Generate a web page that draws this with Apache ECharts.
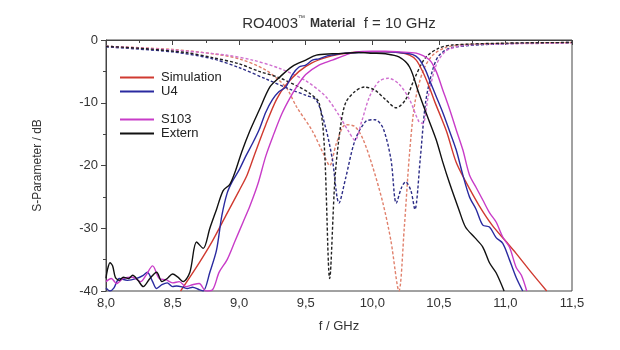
<!DOCTYPE html>
<html>
<head>
<meta charset="utf-8">
<script src="https://cdn.jsdelivr.net/npm/echarts@6/dist/echarts.min.js"></script>
<style>
  html, body { margin: 0; padding: 0; background: #fff; }
  #chart { width: 620px; height: 350px; }
</style>
</head>
<body>
<div id="chart"></div>
<script>
// S21 (solid) curves, [f in GHz, dB]
const simS21 = [[8.56,-40],[8.7,-35.5],[8.8,-32],[8.9,-28],[9.0,-24],[9.06,-21.5],[9.12,-18],[9.2,-13.5],[9.28,-9.5],[9.35,-7.2],[9.45,-5],[9.55,-3.6],[9.65,-2.8],[9.75,-2.3],[9.85,-2.0],[10.0,-1.9],[10.1,-1.9],[10.2,-2.0],[10.28,-2.4],[10.33,-3.2],[10.38,-5.1],[10.43,-7.6],[10.47,-9.9],[10.52,-12.5],[10.56,-14.7],[10.63,-19.5],[10.7,-22.5],[10.8,-26.3],[10.9,-29.5],[11.0,-32],[11.08,-34],[11.2,-37.2],[11.31,-40]];

const u4S21 = [[8.0,-39.5],[8.03,-40],[8.06,-39.5],[8.1,-38],[8.16,-38.3],[8.23,-38],[8.28,-37.5],[8.31,-37],[8.35,-38.5],[8.38,-39.6],[8.42,-39],[8.46,-38.7],[8.5,-39.3],[8.53,-39.2],[8.58,-39.4],[8.61,-39.6],[8.65,-39.4],[8.7,-39.8],[8.73,-40],[8.78,-37],[8.83,-33.5],[8.87,-28],[8.91,-24.4],[8.95,-22.5],[9.0,-20.7],[9.05,-18.5],[9.1,-16.5],[9.15,-14.3],[9.2,-11.5],[9.25,-9.5],[9.3,-8.2],[9.35,-7.5],[9.4,-5.5],[9.45,-4.3],[9.5,-4.0],[9.55,-3.2],[9.6,-3.0],[9.65,-2.6],[9.7,-2.4],[9.8,-2.1],[9.9,-2.0],[10.0,-1.9],[10.1,-1.9],[10.2,-2.0],[10.3,-2.3],[10.35,-3.0],[10.4,-4.8],[10.43,-6.4],[10.48,-9],[10.53,-11.6],[10.58,-14.5],[10.63,-17.5],[10.68,-21.5],[10.73,-25],[10.78,-27],[10.83,-29.5],[10.88,-29.8],[10.93,-31.5],[10.98,-32.4],[11.03,-35],[11.08,-37.8],[11.13,-40]];

const s103S21 = [[8.0,-38.5],[8.04,-38],[8.08,-38.8],[8.13,-38],[8.2,-37.8],[8.26,-38.5],[8.3,-37.5],[8.35,-36],[8.4,-38],[8.45,-38.2],[8.5,-38.7],[8.55,-38.5],[8.6,-39.3],[8.65,-39],[8.7,-38.8],[8.75,-40],[8.8,-39.8],[8.85,-37],[8.91,-35],[8.97,-32],[9.03,-29],[9.08,-26.5],[9.14,-23],[9.2,-18.5],[9.26,-15],[9.32,-11.8],[9.38,-9.3],[9.44,-7.2],[9.5,-5.5],[9.6,-4.0],[9.7,-3.2],[9.8,-2.4],[9.88,-1.9],[10.0,-1.8],[10.1,-1.8],[10.2,-1.9],[10.33,-2.1],[10.43,-3.2],[10.48,-5],[10.53,-8],[10.58,-11],[10.63,-14.3],[10.68,-17.5],[10.73,-21.5],[10.78,-23.5],[10.83,-25.5],[10.88,-27.5],[10.93,-29],[10.98,-31.4],[11.03,-33],[11.08,-36.2],[11.12,-37.5],[11.16,-40]];

const externS21 = [[8.0,-38],[8.01,-36.7],[8.03,-35.5],[8.05,-36],[8.07,-37.8],[8.1,-38.3],[8.13,-37.8],[8.17,-38],[8.2,-37.5],[8.24,-38.3],[8.28,-39.3],[8.33,-38],[8.38,-37],[8.42,-38.5],[8.46,-38],[8.5,-37.3],[8.54,-37.8],[8.58,-38.5],[8.63,-37],[8.68,-32.2],[8.73,-33.2],[8.78,-30],[8.83,-27],[8.88,-24],[8.93,-23],[8.97,-21],[9.02,-17.8],[9.08,-14.5],[9.15,-11.2],[9.23,-7.5],[9.3,-6],[9.4,-4.2],[9.5,-3.2],[9.58,-2.4],[9.7,-2.2],[9.8,-2.1],[9.9,-2.0],[10.0,-2.1],[10.1,-2.2],[10.2,-2.7],[10.28,-4.3],[10.35,-8.5],[10.42,-12.5],[10.48,-15.9],[10.53,-19.5],[10.58,-22.8],[10.65,-27],[10.7,-29.8],[10.77,-31.5],[10.83,-33],[10.88,-35.5],[10.93,-37.1],[10.99,-40]];

// S11 (dashed) curves
const simS11 = [[8.0,-1.0],[8.5,-1.5],[8.8,-2.2],[9.0,-3.0],[9.2,-4.8],[9.35,-7.5],[9.43,-10.6],[9.55,-14.5],[9.63,-18],[9.68,-20],[9.73,-16.5],[9.8,-13.5],[9.87,-13.8],[9.93,-15.8],[10.0,-20],[10.08,-26],[10.14,-32],[10.2,-40],[10.24,-30],[10.28,-18],[10.32,-10],[10.38,-5],[10.45,-2.5],[10.55,-1.2],[10.7,-0.7],[11.5,-0.4]];

const u4S11 = [[8.0,-1.1],[8.5,-1.9],[8.8,-3.0],[9.0,-4.4],[9.2,-6.2],[9.4,-8.0],[9.5,-8.8],[9.58,-9.6],[9.65,-14],[9.7,-19],[9.75,-26],[9.8,-22],[9.87,-16],[9.95,-13],[10.02,-12.7],[10.08,-14],[10.14,-19],[10.18,-26],[10.22,-23.5],[10.25,-22.6],[10.29,-24],[10.32,-27],[10.36,-19],[10.4,-10],[10.45,-5],[10.5,-2.5],[10.6,-1.2],[11.0,-0.6],[11.5,-0.4]];

const s103S11 = [[8.0,-1.0],[8.5,-1.6],[8.9,-2.4],[9.1,-3.2],[9.3,-4.5],[9.5,-6.5],[9.65,-9],[9.75,-12],[9.82,-14.5],[9.87,-16],[9.92,-13],[9.98,-9],[10.05,-6.6],[10.12,-6.1],[10.2,-7],[10.28,-9.5],[10.35,-13],[10.38,-13.3],[10.42,-9],[10.48,-4],[10.55,-1.8],[10.65,-1.0],[10.8,-0.7],[11.5,-0.5]];

const externS11 = [[8.0,-1.0],[8.3,-1.4],[8.6,-2.0],[8.8,-2.8],[9.0,-3.8],[9.15,-5.0],[9.3,-6.0],[9.45,-7.5],[9.53,-8.5],[9.6,-10],[9.64,-17],[9.68,-38],[9.72,-22],[9.76,-14],[9.8,-10],[9.87,-8.2],[9.94,-7.5],[10.02,-8],[10.1,-9.5],[10.18,-10.8],[10.25,-9.5],[10.32,-6],[10.4,-2.8],[10.5,-1.3],[10.6,-0.8],[11.0,-0.5],[11.5,-0.4]];

const xTicks = [8.0, 11.5, 0.5];
const yTicks = [-40, 0, 10];

const chart = echarts.init(document.getElementById('chart'));

const solid = (name, color, data) => ({
  name, type: 'line', data, symbol: 'none', smooth: 0.3, z: 3,
  lineStyle: { color, width: 1.4 }, itemStyle: { color }
});
const dashed = (name, color, data) => ({
  name, type: 'line', data, symbol: 'none', smooth: 0.3, z: 2,
  lineStyle: { color, width: 1.4, type: [3, 2] }, itemStyle: { color }
});

const legendBase = {
  orient: 'vertical', left: 115, icon: 'rect',
  itemWidth: 34, itemHeight: 2, itemGap: 1,
  textStyle: { fontSize: 13, color: '#222', fontFamily: 'Liberation Sans', padding: [0, 0, 0, 2] }
};

const option = {
  animation: false,
  backgroundColor: '#fff',
  title: {
    left: 334, top: 10, textAlign: 'center',
    text: '{a|RO4003}{s|™} {b|Material}{a|  f = 10 GHz}',
    textStyle: {
      fontWeight: 'normal',
      rich: {
        a: { fontSize: 15, fontWeight: 'normal', color: '#333', fontFamily: 'Liberation Sans' },
        s: { fontSize: 7, fontWeight: 'normal', color: '#333', verticalAlign: 'top', padding: [0, 0, 8, 0] },
        b: { fontSize: 12, fontWeight: 'bold', color: '#333', fontFamily: 'Liberation Sans' }
      }
    }
  },
  grid: { left: 106, right: 48, top: 40, bottom: 59, show: true, borderColor: '#444', borderWidth: 1 },
  legend: [
    Object.assign({ data: ['Simulation', 'U4'], top: 66 }, legendBase),
    Object.assign({ data: ['S103', 'Extern'], top: 108 }, legendBase)
  ],
  xAxis: {
    type: 'value', min: xTicks[0], max: xTicks[1], interval: xTicks[2],
    name: 'f / GHz', nameLocation: 'middle', nameGap: 29,
    nameTextStyle: { fontSize: 13, color: '#333', fontFamily: 'Liberation Sans' },
    axisLine: { show: true, lineStyle: { color: '#444' } },
    axisTick: { show: true, length: 5, lineStyle: { color: '#444' } },
    minorTick: { show: true, splitNumber: 2, length: 3, lineStyle: { color: '#444' } },
    splitLine: { show: false },
    axisLabel: {
      fontSize: 13, color: '#333', margin: 6, fontFamily: 'Liberation Sans',
      formatter: v => v.toFixed(1).replace('.', ',')
    }
  },
  yAxis: {
    type: 'value', min: yTicks[0], max: yTicks[1], interval: yTicks[2],
    name: 'S-Parameter / dB', nameLocation: 'middle', nameGap: 62, nameRotate: 90,
    nameTextStyle: { fontSize: 12, color: '#333', fontFamily: 'Liberation Sans' },
    axisLine: { show: true, lineStyle: { color: '#444' } },
    axisTick: { show: true, length: 5, lineStyle: { color: '#444' } },
    minorTick: { show: true, splitNumber: 2, length: 3, lineStyle: { color: '#444' } },
    splitLine: { show: false },
    axisLabel: { fontSize: 13, color: '#333', margin: 8, fontFamily: 'Liberation Sans' }
  },
  series: [
    dashed('Simulation S11', '#e0806c', simS11),
    dashed('U4 S11', '#2c2c86', u4S11),
    dashed('S103 S11', '#d070d0', s103S11),
    dashed('Extern S11', '#222222', externS11),
    solid('Simulation', '#d03a30', simS21),
    solid('U4', '#2a2aa0', u4S21),
    solid('S103', '#c83cc8', s103S21),
    solid('Extern', '#111111', externS21)
  ]
};

chart.setOption(option);
</script>
</body>
</html>
